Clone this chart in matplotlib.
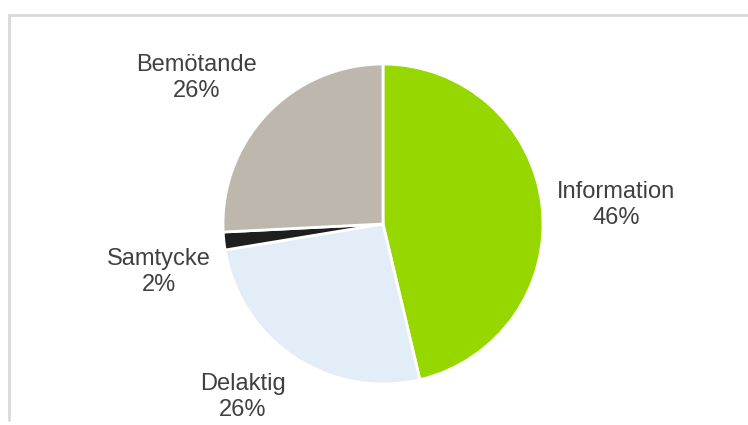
import matplotlib.pyplot as plt

labels = ['Information', 'Delaktig', 'Samtycke', 'Bemötande']
values = [46.3, 26.1, 1.8, 25.8]
pcts = ['46%', '26%', '2%', '26%']
colors = ['#97D700', '#E3EDF8', '#1E1E1E', '#BEB7AE']
# label centres in pixels (x, y from top)
label_pos = [(616, 205), (243, 397), (159, 272), (197, 78)]

W, H = 748, 425
fig = plt.figure(figsize=(W / 100, H / 100), dpi=100)
ax = fig.add_axes([0, 0, 1, 1])

ax.pie(values, colors=colors, startangle=90, counterclock=False,
       center=(383, H - 224), radius=160,
       wedgeprops=dict(edgecolor='white', linewidth=2))

# chart frame (left + top only visible)
ax.plot([9, 9, W], [H - 421, H - 15, H - 15], color='#D9D9D9', lw=2,
        solid_capstyle='butt', solid_joinstyle='miter', clip_on=False)

ax.set_xlim(0, W)
ax.set_ylim(0, H)
ax.set_aspect('auto')
ax.axis('off')

for lab, p, (x, y) in zip(labels, pcts, label_pos):
    ax.text(x, H - y, lab + '\n' + p, ha='center', va='center', fontsize=17,
            color='#404040', family='Liberation Sans', linespacing=1.25)

fig.savefig('out.png', dpi=100)
